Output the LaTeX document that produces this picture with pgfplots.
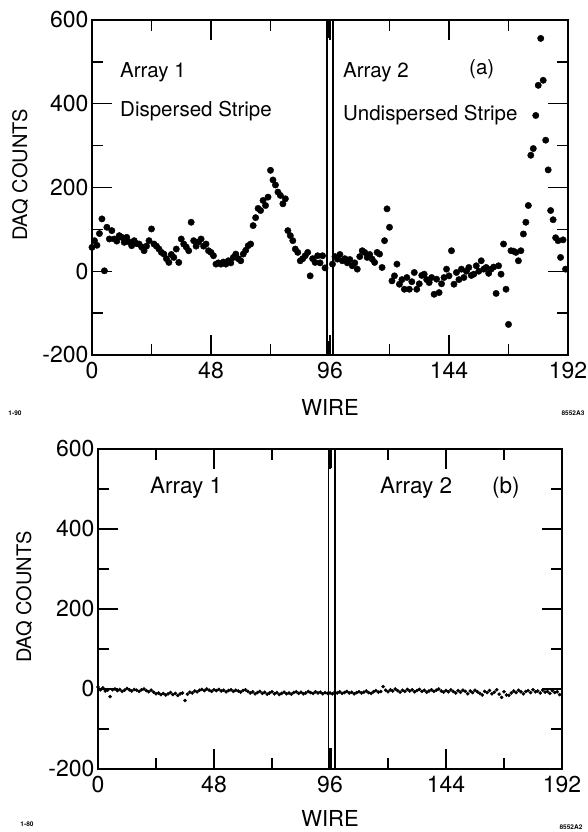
\documentclass[border=0pt]{standalone}
\usepackage{pgfplots}
\pgfplotsset{compat=1.18}
\usepackage{pgfplotstable}
\usepackage{fontspec}
\setmainfont{TeX Gyre Heros}

\pgfplotstableread{
w c
0 57
1 73
2 62
3 90
4 125
5 1
6 105
7 77
8 97
9 77
10 72
11 85
12 81
13 69
14 81
15 70
16 61
17 73
18 66
19 65
20 58
21 49
22 60
23 73
24 101
25 65
26 60
27 53
28 45
29 41
30 30
31 21
32 40
33 33
34 53
35 21
36 77
37 65
38 58
39 49
40 117
41 73
42 60
43 70
44 77
45 60
46 65
47 49
48 45
49 37
50 17
51 20
52 17
53 22
54 17
55 25
56 20
57 33
58 41
59 30
60 25
61 41
62 50
63 61
64 65
65 109
66 128
67 150
68 145
69 169
70 157
71 177
72 241
73 218
74 206
75 189
76 181
77 161
78 173
79 97
80 85
81 73
82 53
83 45
84 25
85 30
86 37
87 45
88 -11
89 30
90 21
91 37
92 20
93 37
94 8
97 17
98 35
99 29
100 40
101 25
102 30
103 20
104 28
105 13
106 20
107 5
108 35
109 49
110 45
111 33
112 40
113 29
114 21
115 45
116 41
117 9
118 73
119 149
120 105
121 -23
122 -11
123 17
124 -31
125 -20
126 -43
127 -15
128 -43
129 -25
130 -3
131 -43
132 -30
133 -10
134 -7
135 -20
136 -27
137 -15
138 -55
139 -19
140 -51
141 -30
142 -15
143 5
144 -11
145 49
146 -31
147 -3
148 -20
149 5
150 -15
151 0
152 9
153 -10
154 -7
155 13
156 0
157 25
158 5
159 9
160 -5
161 5
162 10
163 -53
164 13
165 -7
166 65
167 -43
168 -127
169 49
170 48
171 45
172 25
173 49
174 89
175 117
176 157
177 277
178 293
179 372
180 444
181 556
182 456
183 313
184 242
185 145
186 123
187 80
188 73
189 33
190 75
191 5
}\topdata

\pgfplotstableread{
w c
0 5
1 -2
2 3
3 -5
4 -3
5 -19
6 -2
7 0
8 -4
9 -1
10 -6
11 -3
12 1
13 -2
14 -5
15 -1
16 -3
17 -6
18 -2
19 0
20 -4
21 -7
22 -3
23 -8
24 -12
25 -10
26 -14
27 -11
28 -15
29 -12
30 -9
31 -14
32 -11
33 -16
34 -12
35 -10
36 -29
37 -13
38 -8
39 -10
40 -5
41 -7
42 -3
43 -1
44 -4
45 0
46 -3
47 -6
48 -2
49 -4
50 -1
51 -5
52 -3
53 -7
54 -4
55 -2
56 -6
57 -3
58 -5
59 -8
60 -4
61 -2
62 -6
63 -10
64 -7
65 -12
66 -9
67 -6
68 -11
69 -8
70 -13
71 -10
72 -7
73 -12
74 -9
75 -14
76 -11
77 -8
78 -12
79 -10
80 -13
81 -9
82 -7
83 -11
84 -8
85 -12
86 -10
87 -6
88 -9
89 -11
90 -7
91 -10
92 -8
93 -12
94 -9
95 -11
96 -10
97 -12
98 -8
99 -10
100 -7
101 -11
102 -9
103 -6
104 -10
105 -8
106 -12
107 -9
108 -7
109 -10
110 -8
111 -5
112 -9
113 -11
114 -7
115 -4
116 -8
117 -6
118 6
119 -3
120 -7
121 -2
122 -5
123 0
124 -4
125 -8
126 -3
127 -6
128 -1
129 -5
130 -2
131 -7
132 -4
133 -1
134 -6
135 -3
136 -8
137 -5
138 -2
139 -6
140 -3
141 0
142 -5
143 -8
144 -4
145 -7
146 -2
147 -6
148 -10
149 -4
150 -8
151 -3
152 -6
153 -12
154 -5
155 -9
156 -3
157 -7
158 -11
159 -15
160 -6
161 -9
162 -4
163 -12
164 -8
165 -2
166 -13
167 -21
168 -7
169 -15
170 -16
171 -10
172 -5
173 -9
174 -3
175 -7
176 -12
177 -6
178 -4
179 -9
180 -2
181 -7
182 -5
183 -10
184 -3
185 -8
186 -6
187 -11
188 -4
189 -9
190 -7
191 -14
}\botdata

\pgfplotsset{
  wirestyle/.style={
    scale only axis,
    xmin=0, xmax=192, ymin=-200, ymax=600,
    xtick={0,48,96,144,192},
    minor xtick={24,72,120,168},
    ytick={-200,0,200,400,600},
    minor ytick={-100,100,300,500},
    tick align=inside,
    major tick length=20pt,
    minor tick length=11pt,
    tick style={black, line width=1.4pt},
    axis line style={line width=1.6pt},
    tick label style={font=\fontsize{23}{23}\selectfont},
    /pgf/number format/assume math mode=true,
    xticklabel style={yshift=-4pt},
    xlabel={WIRE},
    ylabel={DAQ COUNTS},
    xlabel style={font=\fontsize{22}{22}\selectfont, at={(axis description cs:0.5,-0.158)}, anchor=center},
    ylabel style={font=\fontsize{20}{20}\selectfont, anchor=center},
    clip=false,
  }
}

\begin{document}
\begin{tikzpicture}
\path[use as bounding box] (0pt,0pt) rectangle (587pt,832pt);

% top panel (a)
\begin{axis}[wirestyle,
  at={(92pt,477pt)}, anchor=south west,
  width=476pt, height=335pt,
  ylabel style={at={(axis description cs:-0.151,0.537)}},
]
\addplot[only marks, mark=*, mark size=3.2pt, black] table[x=w, y=c] {\topdata};
\draw[line width=1.6pt] (axis cs:94.7,-200) -- (axis cs:94.7,600);
\draw[line width=1.6pt] (axis cs:97.1,-200) -- (axis cs:97.1,600);
\draw[line width=4pt] (axis cs:95.3,-200) -- (axis cs:95.3,-166);
\draw[line width=3pt] (axis cs:95.2,600) -- (axis cs:95.2,556);
\end{axis}

% bottom panel (b)
\begin{axis}[wirestyle,
  at={(98pt,63pt)}, anchor=south west,
  width=464pt, height=320pt,
  xlabel style={at={(axis description cs:0.5,-0.156)}},
  ylabel style={at={(axis description cs:-0.159,0.537)}},
]
\addplot[only marks, mark=*, mark size=1.6pt, black] table[x=w, y=c] {\botdata};
\draw[line width=1.6pt] (axis cs:95.3,-200) -- (axis cs:95.3,600);
\draw[line width=1.6pt] (axis cs:98.0,-200) -- (axis cs:98.0,600);
\draw[line width=4pt] (axis cs:96.0,-200) -- (axis cs:96.0,-148);
\draw[line width=4pt] (axis cs:96.0,600) -- (axis cs:96.0,552);
\end{axis}

% panel texts
\begin{scope}[every node/.style={inner sep=0pt, font=\fontsize{20.5}{20.5}\selectfont}]
\node[anchor=base west] at (120pt,754pt) {Array 1};
\node[anchor=base west] at (120pt,715pt) {Dispersed Stripe};
\node[anchor=base west] at (343pt,754pt) {Array 2};
\node[anchor=base] at (481.7pt,757pt) {(a)};
\node[anchor=base west] at (343pt,711pt) {Undispersed Stripe};
\end{scope}
\begin{scope}[every node/.style={inner sep=0pt, font=\fontsize{22.5}{22.5}\selectfont}]
\node[anchor=base west] at (150pt,338pt) {Array 1};
\node[anchor=base west] at (380pt,338pt) {Array 2};
\node[anchor=base] at (505.8pt,338pt) {(b)};
\end{scope}
\begin{scope}[every node/.style={inner sep=0pt, font=\fontsize{6.5}{6.5}\selectfont\bfseries}]
\node at (15pt,419pt) {1-90};
\node at (573pt,419pt) {8552A3};
\node at (27pt,8pt) {1-80};
\node at (571pt,5pt) {8552A2};
\end{scope}
\end{tikzpicture}
\end{document}
